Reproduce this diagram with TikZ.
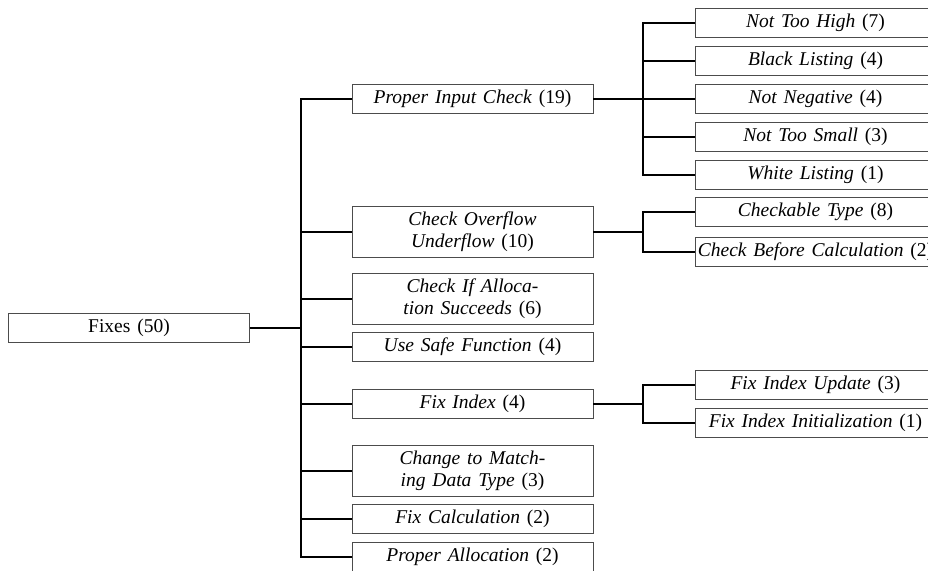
\documentclass[tikz,border=0pt]{standalone}
\usepackage{fontspec}
\setmainfont[WordSpace=1.4]{Liberation Serif}
\begin{document}
\begin{tikzpicture}[x=1pt,y=-1pt,
  box/.style={draw=black!70, line width=0.8pt, fill=white, rectangle,
    minimum width=241pt, minimum height=29pt, inner sep=0pt,
    align=center, font=\fontsize{19.5}{22}\selectfont},
  tall/.style={box, minimum height=51pt},
  conn/.style={line width=1.4pt, black}]
\useasboundingbox (0,0) rectangle (928,570);
\clip (0,0) rectangle (928,570);

% root
\node[box] (fixes) at (129,328) {Fixes (50)};

% first level
\node[box]  (pic)   at (472.5,99)  {\textit{Proper Input Check} (19)};
\node[tall] (cou)   at (472.5,232) {\textit{Check Overflow}\\\textit{Underflow} (10)};
\node[tall] (cias)  at (472.5,299) {\textit{Check If Alloca-}\\\textit{tion Succeeds} (6)};
\node[box]  (usf)   at (472.5,347) {\textit{Use Safe Function} (4)};
\node[box]  (fi)    at (472.5,404) {\textit{Fix Index} (4)};
\node[tall] (ctm)   at (472.5,471) {\textit{Change to Match-}\\\textit{ing Data Type} (3)};
\node[box]  (fc)    at (472.5,519) {\textit{Fix Calculation} (2)};
\node[box]  (pa)    at (472.5,557) {\textit{Proper Allocation} (2)};

% second level
\node[box] (nth)  at (815.5,23)  {\textit{Not Too High} (7)};
\node[box] (bl)   at (815.5,61)  {\textit{Black Listing} (4)};
\node[box] (nn)   at (815.5,99)  {\textit{Not Negative} (4)};
\node[box] (nts)  at (815.5,137) {\textit{Not Too Small} (3)};
\node[box] (wl)   at (815.5,175) {\textit{White Listing} (1)};
\node[box] (ct)   at (815.5,212) {\textit{Checkable Type} (8)};
\node[box] (cbc)  at (815.5,252) {\textit{Check Before Calculation} (2)};
\node[box] (fiu)  at (815.5,385) {\textit{Fix Index Update} (3)};
\node[box] (fii)  at (815.5,423) {\textit{Fix Index Initialization} (1)};

% branch points
\coordinate (t) at (301,0);
\coordinate (s) at (643,0);

% main trunk
\draw[conn] (fixes.east) -- (t |- fixes.east);
\draw[conn] (pic.west) -- (t |- pic.west) -- (t |- pa.west) -- (pa.west);
\foreach \n in {cou,cias,usf,fi,ctm,fc}
  \draw[conn] (t |- \n.west) -- (\n.west);

% proper input check branch
\draw[conn] (pic.east) -- (s |- pic.east);
\draw[conn] (nth.west) -- (s |- nth.west) -- (s |- wl.west) -- (wl.west);
\foreach \n in {bl,nn,nts}
  \draw[conn] (s |- \n.west) -- (\n.west);

% overflow branch
\draw[conn] (cou.east) -- (s |- cou.east);
\draw[conn] (ct.west) -- (s |- ct.west) -- (s |- cbc.west) -- (cbc.west);

% fix index branch
\draw[conn] (fi.east) -- (s |- fi.east);
\draw[conn] (fiu.west) -- (s |- fiu.west) -- (s |- fii.west) -- (fii.west);
\end{tikzpicture}
\end{document}
